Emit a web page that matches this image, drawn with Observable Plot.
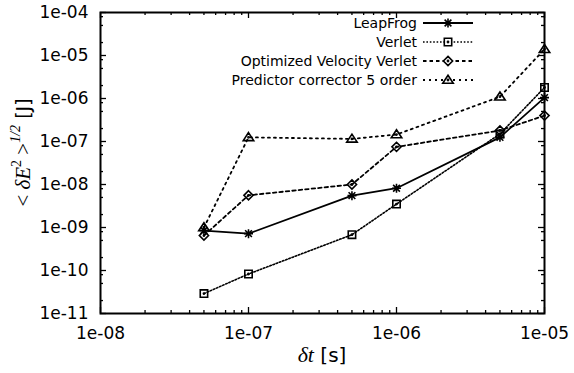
<!DOCTYPE html>
<html><head><meta charset="utf-8">
<script src="https://cdn.jsdelivr.net/npm/d3@7"></script>
<script src="https://cdn.jsdelivr.net/npm/@observablehq/plot@0.6"></script>
<style>html,body{margin:0;padding:0;background:#fff;}</style>
</head><body><div id="chart"></div>
<script>
const dt = [5e-8, 1e-7, 5e-7, 1e-6, 5e-6, 1e-5];
const seriesNames = ["LeapFrog", "Verlet", "Optimized Velocity Verlet", "Predictor corrector 5 order"];
const leapfrog = [8.5e-10, 7.2e-10, 5.5e-9, 8.2e-9, 1.25e-7, 1.05e-6];
const verlet = [2.9e-11, 8.3e-11, 6.8e-10, 3.5e-9, 1.5e-7, 1.8e-6];
const ovv = [6.5e-10, 5.6e-9, 1.0e-8, 7.5e-8, 1.8e-7, 4.0e-7];
const pc = [1.0e-9, 1.25e-7, 1.15e-7, 1.45e-7, 1.1e-6, 1.4e-5];
const xMajor = [1e-8, 1e-7, 1e-6, 1e-5];
const yMajor = [1e-11, 1e-10, 1e-9, 1e-8, 1e-7, 1e-6, 1e-5, 1e-4];
const xMinorMult = [2, 3, 4, 5, 6, 7, 8, 9];
const yMinorMult = [2, 5, 8];

const allValues = [leapfrog, verlet, ovv, pc];
const table = [];
seriesNames.forEach((s, i) => dt.forEach((t, j) => table.push({series: s, dt: t, value: allValues[i][j]})));

const xMinor = xMajor.slice(0, -1).flatMap(d => xMinorMult.map(m => d * m));
const yMinor = yMajor.slice(0, -1).flatMap(d => yMinorMult.map(m => d * m));

function rOf(size) { return Math.sqrt(size / Math.PI); }
const star = {draw(ctx, size) { const r = rOf(size), s = r * 0.75;
  ctx.moveTo(-r, 0); ctx.lineTo(r, 0); ctx.moveTo(0, -r); ctx.lineTo(0, r);
  ctx.moveTo(-s, -s); ctx.lineTo(s, s); ctx.moveTo(-s, s); ctx.lineTo(s, -s); }};
function centerDot(ctx) { ctx.moveTo(0.6, 0); ctx.arc(0, 0, 0.6, 0, 2 * Math.PI); }
const boxSym = {draw(ctx, size) { const r = rOf(size); ctx.rect(-r, -r, 2 * r, 2 * r); centerDot(ctx); }};
const diamondSym = {draw(ctx, size) { const r = rOf(size);
  ctx.moveTo(0, -r); ctx.lineTo(r, 0); ctx.lineTo(0, r); ctx.lineTo(-r, 0); ctx.closePath(); centerDot(ctx); }};
const triSym = {draw(ctx, size) { const r = rOf(size);
  ctx.moveTo(0, -r * 0.95); ctx.lineTo(r * 1.05, r * 0.65); ctx.lineTo(-r * 1.05, r * 0.65); ctx.closePath(); centerDot(ctx); }};

const styles = {
  "LeapFrog": {dash: null, sym: star, r: 4.5, w: 1.8},
  "Verlet": {dash: "1.6,1.8", sym: boxSym, r: 3.7, w: 1.6},
  "Optimized Velocity Verlet": {dash: "3.5,3", sym: diamondSym, r: 4.6, w: 1.8},
  "Predictor corrector 5 order": {dash: "2,4", sym: triSym, r: 5, w: 1.8}
};

const fmt = d => { const e = Math.round(Math.log10(d)); return "1e" + (e < 0 ? "-" : "+") + String(Math.abs(e)).padStart(2, "0"); };

const mL = 100, mR = 30, mT = 12, mB = 60, W = 574, H = 373;
const ph = H - mT - mB, pw = W - mL - mR;

const marks = [];
seriesNames.forEach(s => {
  const st = styles[s];
  const rows = table.filter(d => d.series === s);
  marks.push(Plot.line(rows, {x: "dt", y: "value", stroke: "black", strokeWidth: st.w, strokeDasharray: st.dash}));
});
seriesNames.forEach(s => {
  const st = styles[s];
  const rows = table.filter(d => d.series === s);
  marks.push(Plot.dot(rows, {x: "dt", y: "value", symbol: () => st.sym, r: st.r, stroke: "black", fill: "none", strokeWidth: 1.6}));
});
// ticks (inward, mirrored)
marks.push(
  Plot.tickX(xMajor, {x: d => d, insetTop: ph - 6, stroke: "black", strokeWidth: 1.3}),
  Plot.tickX(xMajor, {x: d => d, insetBottom: ph - 6, stroke: "black", strokeWidth: 1.3}),
  Plot.tickX(xMinor, {x: d => d, insetTop: ph - 3, stroke: "black", strokeWidth: 1.3}),
  Plot.tickX(xMinor, {x: d => d, insetBottom: ph - 3, stroke: "black", strokeWidth: 1.3}),
  Plot.tickY(yMajor, {y: d => d, insetRight: pw - 6, stroke: "black", strokeWidth: 1.3}),
  Plot.tickY(yMajor, {y: d => d, insetLeft: pw - 6, stroke: "black", strokeWidth: 1.3}),
  Plot.tickY(yMinor, {y: d => d, insetRight: pw - 3, stroke: "black", strokeWidth: 1.3}),
  Plot.tickY(yMinor, {y: d => d, insetLeft: pw - 3, stroke: "black", strokeWidth: 1.3}),
  Plot.axisX({ticks: xMajor, tickFormat: fmt, tickSize: 0, tickPadding: 13, fontSize: 17, label: null}),
  Plot.axisY({ticks: yMajor, tickFormat: fmt, tickSize: 0, tickPadding: 12, fontSize: 17, label: null}),
  Plot.frame({stroke: "black", strokeWidth: 2})
);

const chart = Plot.plot({
  width: W, height: H,
  marginLeft: mL, marginRight: mR, marginTop: mT, marginBottom: mB,
  x: {type: "log", domain: [1e-8, 1e-5]},
  y: {type: "log", domain: [1e-11, 1e-4]},
  style: {fontFamily: "DejaVu Sans", background: "white", color: "black", overflow: "visible"},
  marks
});
document.getElementById("chart").append(chart);

const svg = d3.select(chart);
// legend
const leg = svg.append("g").attr("font-family", "DejaVu Sans").attr("font-size", 14);
const legX = 417, lineX1 = 423, lineX2 = 473, legY0 = 23, legDy = 19;
seriesNames.forEach((s, i) => {
  const st = styles[s];
  const y = legY0 + i * legDy;
  leg.append("text").attr("x", legX).attr("y", y).attr("dy", "0.35em").attr("text-anchor", "end").text(s);
  leg.append("line").attr("x1", lineX1).attr("x2", lineX2).attr("y1", y).attr("y2", y)
    .attr("stroke", "black").attr("stroke-width", st.w).attr("stroke-dasharray", st.dash);
  leg.append("path").attr("transform", `translate(${(lineX1 + lineX2) / 2},${y})`)
    .attr("d", d3.symbol().type(st.sym).size(Math.PI * st.r * st.r)())
    .attr("fill", "white").attr("stroke", "black").attr("stroke-width", 1.6);
});
// x label
const xl = svg.append("text").attr("x", mL + pw / 2).attr("y", 362).attr("text-anchor", "middle")
  .attr("font-size", 20).attr("font-family", "DejaVu Sans");
xl.append("tspan").attr("font-family", "Liberation Serif").attr("font-style", "italic").attr("font-size", 22).text("δt");
xl.append("tspan").text(" [s]");
// y label
const yl = svg.append("text").attr("transform", `translate(30,${mT + ph / 2 - 10}) rotate(-90)`).attr("text-anchor", "middle")
  .attr("font-size", 21).attr("font-family", "Liberation Serif");
yl.append("tspan").text("< ");
yl.append("tspan").attr("font-style", "italic").text("δE");
yl.append("tspan").attr("font-size", 14).attr("dy", -9).text("2");
yl.append("tspan").attr("dy", 9).text(" >");
yl.append("tspan").attr("font-size", 14).attr("font-style", "italic").attr("dy", -10).text("1/2");
yl.append("tspan").attr("dy", 10).attr("font-family", "DejaVu Sans").attr("font-size", 19).text(" [J]");
</script>
</body></html>
